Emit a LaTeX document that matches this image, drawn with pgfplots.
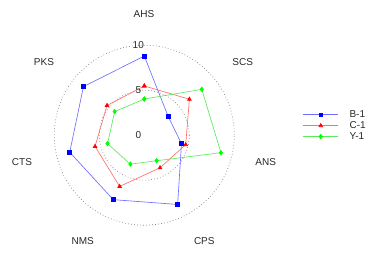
\documentclass[border=0pt]{standalone}
\usepackage{fontspec}
\setmainfont{Liberation Sans}
\usepackage{pgfplots}
\usepgfplotslibrary{polar}
\pgfplotsset{compat=1.18}
\definecolor{lblue}{RGB}{110,110,255}
\definecolor{lred}{RGB}{255,110,110}
\definecolor{lgreen}{RGB}{90,235,90}
\definecolor{txt}{RGB}{40,40,40}
\begin{document}
\begin{tikzpicture}[font=\fontsize{10}{12}\selectfont]
\begin{polaraxis}[
  at={(0,0)}, anchor=center,
  scale only axis, width=180pt, height=180pt,
  xmin=0, xmax=360, ymin=0, ymax=10,
  hide axis, clip=false,
  legend style={draw=none, fill=none, at={(1.38,0.553)}, anchor=west,
    inner sep=0pt, row sep=-1.5pt, font=\fontsize{10}{12}\selectfont,
    text=txt,
    /tikz/every odd column/.append style={column sep=9pt}},
  legend cell align=left,
  legend image code/.code={\draw[mark repeat=2,mark phase=2,#1] plot coordinates {(0pt,0pt) (17.5pt,0pt) (35pt,0pt)};},
]
\addplot[lblue, line width=0.65pt, mark=square*, mark size=1.9pt, mark options={blue, fill=blue, solid}] coordinates {
(90,8.8) (38.571,3.38) (347.143,4.24) (295.714,8.54) (244.286,7.95) (192.857,8.5) (141.429,8.65) (90,8.8)};
\addlegendentry{B-1}
\addplot[lred, line width=0.65pt, mark=triangle*, mark size=2.1pt, mark options={red, fill=red, solid}] coordinates {
(90,5.47) (38.571,6.41) (347.143,4.72) (295.714,4.02) (244.286,6.32) (192.857,5.61) (141.429,5.3) (90,5.47)};
\addlegendentry{C-1}
\addplot[lgreen, line width=0.65pt, mark=diamond*, mark size=2.2pt, mark options={green, fill=green, solid}] coordinates {
(90,4.02) (38.571,8.17) (347.143,8.73) (295.714,3.15) (244.286,3.57) (192.857,4.19) (141.429,4.21) (90,4.02)};
\addlegendentry{Y-1}
\end{polaraxis}
\draw[gray, line width=0.7pt, dash pattern=on 0.7pt off 2.3pt] (0,0) circle (90pt);
\draw[gray, line width=0.7pt, dash pattern=on 0.7pt off 2.3pt] (0,0) circle (45pt);
\begin{scope}[text=txt]
\node at (-6pt,90pt) {10};
\node at (-6pt,45pt) {5};
\node at (-6pt,0pt) {0};
\node at (-0.3pt,121.2pt) {AHS};
\node at (98.4pt,73.5pt) {SCS};
\node at (121.4pt,-26.5pt) {ANS};
\node at (60pt,-105.5pt) {CPS};
\node at (-61.6pt,-105.5pt) {NMS};
\node at (-122.3pt,-26.5pt) {CTS};
\node at (-100.3pt,73.5pt) {PKS};
\end{scope}
\pgfresetboundingbox
\path[use as bounding box] (-144.3pt,-123.8pt) rectangle (226.7pt,135.2pt);
\end{tikzpicture}
\end{document}
